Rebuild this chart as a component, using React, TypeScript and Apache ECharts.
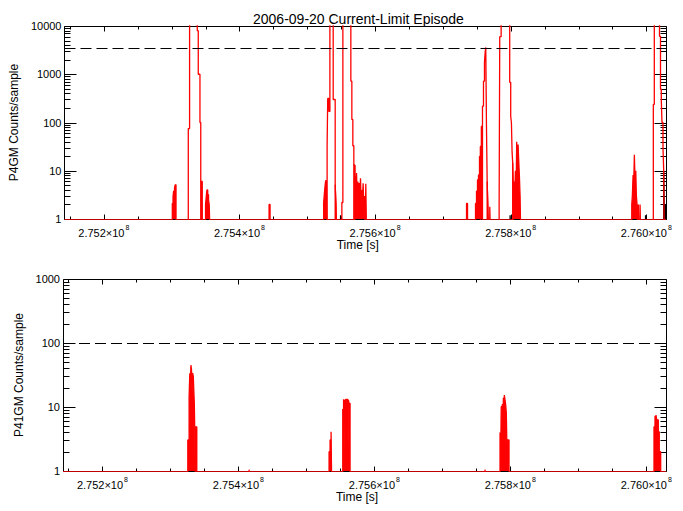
import React, { useEffect, useRef } from 'react';
import * as echarts from 'echarts';

const TITLE = '2006-09-20 Current-Limit Episode';
const X_NAME = 'Time [s]';
const TOP_Y_NAME = 'P4GM Counts/sample';
const BOTTOM_Y_NAME = 'P41GM Counts/sample';

const X_MIN = 275142000;
const X_MAX = 276029000;
const X_TICKS = [275200000, 275400000, 275600000, 275800000, 276000000];
const X_MINOR_STEP = 50000;
const TOP_Y_TICKS = [1, 10, 100, 1000, 10000];
const BOTTOM_Y_TICKS = [1, 10, 100, 1000];
const TOP_THRESHOLD = 3500;
const BOTTOM_THRESHOLD = 100;
const ZERO_FLOOR = 0.5; // zero counts plotted below the log axis floor (clipped)

// P4GM: large excursions (outline only); 0 = no counts, 20000 = off-scale
const p4gmSpikeTimes = [
  275324560, 275326470, 275337790, 275339260, 275341760, 275342940, 275345150,
  275529270, 275530150, 275531910, 275533380, 275538240, 275541180, 275542210, 275543240,
  275551030, 275552500, 275564270, 275565740, 275567210, 275568680, 275570150,
  275755440, 275756910, 275758390, 275759860, 275761330, 275762360, 275763240, 275764270, 275765300, 275766180, 275767210,
  275782940, 275783830, 275785890, 275798530, 275800000, 275801030, 275802060, 275802940, 275803970,
  276010300, 276011770, 276019420, 276020890, 276022060, 276023090, 276024560, 276025590, 276026330,
];
const p4gmSpikeCounts = [
  75, 20000, 8000, 1000, 100, 6, 0,
  32, 316, 170, 20000, 300, 5.1, 2.1, 0,
  2.2, 20000, 720, 116, 33, 13, 0,
  32, 83, 218, 720, 1780, 2900, 3600, 83, 6, 2, 0,
  2, 6000, 20000, 680, 135, 100, 24, 14.7, 0,
  237, 20000, 6100, 490, 300, 100, 30, 10.5, 0,
];

// P4GM: low-level noise clusters (dense samples)
const p4gmNoiseTimes = [
  275301000, 275302060, 275302940, 275304260, 275305150, 275306470,
  275342940, 275344120, 275345150,
  275350000, 275351030, 275352060, 275353240, 275354410, 275355440, 275356470,
  275443680, 275445150,
  275524120, 275525000, 275526030, 275527060, 275528240, 275529270,
  275541180, 275542210, 275543240,
  275568680, 275570150, 275571620, 275572650, 275573530, 275574560, 275575590, 275576470, 275577500, 275578530, 275579410, 275580440, 275581470, 275582350, 275583380, 275584410, 275585300, 275586330, 275587350,
  275734860, 275736330,
  275748090, 275749560, 275751030, 275752500, 275753970, 275755440, 275756910, 275758390,
  275765300, 275766180, 275767210, 275769120, 275770150,
  275802940, 275803970, 275805000, 275805890, 275806920, 275807940, 275808830, 275809860, 275810890, 275811770, 275812800, 275813830, 275814710,
  275978530, 275979420, 275980450, 275981480, 275982360, 275983390, 275984420, 275985300, 275986330, 275987360, 275988240, 275989270, 275990740, 275991770,
];
const p4gmNoiseCounts = [
  2.1, 2.9, 3.8, 4.3, 5.1, 0,
  6, 2.9, 0,
  2, 2.9, 4, 3.2, 2.5, 2, 0,
  2, 0,
  2.1, 3.1, 4.5, 6.2, 5, 0,
  5.1, 2.1, 0,
  13, 7.6, 4, 9, 3, 6, 2.5, 5.6, 3.2, 7, 2.2, 4, 2.5, 5.5, 2, 3, 0, 5.4, 0,
  2.1, 0,
  2.1, 3.8, 6.5, 8.2, 19.8, 32, 83, 0,
  6, 2, 0, 1.8, 0,
  14.7, 3.2, 6, 3.2, 10, 3.2, 40, 3.2, 35, 17, 8, 3, 0,
  2, 3.1, 8.2, 6.2, 21.5, 6.2, 10, 3.06, 2, 0, 2, 0, 2, 0,
];

// P4GM secondary trace (black)
const p4gmBlackTimes = [
  275549120, 275550000, 275799120, 275800000, 275998830, 275999860,
  276025590, 276026330, 276026770, 276027500, 276028200, 276028980,
];
const p4gmBlackCounts = [1.2, 0, 1.2, 0, 1.2, 0, 9.7, 2, 0, 2, 0, 2];

// P41GM counts/sample (red)
const p41gmTimes = [
  275325590, 275327500, 275328530, 275329410, 275330150, 275331030, 275331910, 275332650, 275333680, 275334410, 275335150, 275335880, 275336620, 275337210, 275338820,
  275415740, 275416770,
  275533380, 275534850, 275536330, 275537350,
  275553530, 275554710, 275555440, 275556180, 275556910, 275557650, 275558830, 275559410, 275560590, 275561330, 275561770, 275562800, 275564270,
  275762800, 275763830,
  275784860, 275785890, 275786620, 275788240, 275789710, 275791180, 275792210, 275793240, 275794120, 275794860, 275796180, 275798090,
  276011330, 276012800, 276014270, 276015300, 276017650, 276019120, 276021180,
];
const p41gmCounts = [
  3.05, 14.5, 33.6, 23.4, 45, 38, 16.4, 34, 30, 18.5, 11.4, 4.1, 0, 4.9, 0,
  1.05, 0,
  2.0, 3.05, 4.1, 0,
  9.2, 13.2, 2.1, 13, 11.4, 13.2, 3.05, 13.2, 11, 2, 13, 11.4, 0,
  1.05, 0,
  4.0, 2.0, 10.1, 11, 13.7, 15.4, 12.9, 10.7, 8, 2.9, 3.05, 0,
  4.9, 7.1, 7.5, 6.3, 4.1, 2, 0,
];

const FONT = 'Liberation Sans';
const RED = '#ff0000';

function toSeries(times: number[], counts: number[]) {
  const out: number[][] = [[X_MIN, ZERO_FLOOR]];
  for (let i = 0; i < times.length; i++) {
    out.push([times[i], counts[i] > 0 ? counts[i] : ZERO_FLOOR]);
  }
  out.push([X_MAX, out[out.length - 1][1]]);
  return out;
}

function frameSeries(gi: number, yTicks: number[]) {
  return {
    type: 'custom',
    xAxisIndex: gi,
    yAxisIndex: gi,
    silent: true,
    clip: false,
    z: 1,
    data: [[X_MIN, yTicks[0]]],
    renderItem: (params: any, api: any) => {
      const cs = params.coordSys;
      const left = Math.round(cs.x) + 0.5;
      const right = Math.round(cs.x + cs.width) + 0.5;
      const top = Math.round(cs.y) + 0.5;
      const bottom = Math.round(cs.y + cs.height) + 0.5;
      const children: any[] = [];
      const st = { stroke: '#000', lineWidth: 1 };
      const seg = (x1: number, y1: number, x2: number, y2: number) =>
        children.push({ type: 'line', shape: { x1, y1, x2, y2 }, style: st });
      children.push({
        type: 'rect',
        shape: { x: left, y: top, width: right - left, height: bottom - top },
        style: { fill: 'none', stroke: '#000', lineWidth: 1 },
      });
      const start = Math.ceil(X_MIN / X_MINOR_STEP) * X_MINOR_STEP;
      for (let t = start; t <= X_MAX; t += X_MINOR_STEP) {
        const px = Math.round(api.coord([t, yTicks[0]])[0]) + 0.5;
        const major = X_TICKS.indexOf(t) >= 0;
        const len = major ? 5 : 3;
        seg(px, bottom, px, bottom - len);
        seg(px, top, px, top + len);
      }
      for (let k = 0; k < yTicks.length; k++) {
        const base = yTicks[k];
        const py = Math.round(api.coord([X_MIN, base])[1]) + 0.5;
        seg(left, py, left + 12, py);
        seg(right, py, right - 12, py);
        if (k < yTicks.length - 1) {
          for (let m = 2; m <= 9; m++) {
            const py2 = Math.round(api.coord([X_MIN, base * m])[1]) + 0.5;
            seg(left, py2, left + 6, py2);
            seg(right, py2, right - 6, py2);
          }
        }
      }
      return { type: 'group', children };
    },
  };
}

function xAxisFor(gi: number) {
  return {
    type: 'value',
    gridIndex: gi,
    min: X_MIN,
    max: X_MAX,
    axisLine: { show: false },
    axisTick: { show: false },
    splitLine: { show: false },
    name: X_NAME,
    nameLocation: 'middle',
    nameGap: 19,
    nameTextStyle: { fontFamily: FONT, fontSize: 12, color: '#000', padding: [0, 15, 0, 0] },
    axisLabel: {
      customValues: X_TICKS,
      margin: 5,
      formatter: (v: number) => `{m|${(v / 1e8).toFixed(3)}×10}{s|8}`,
      rich: {
        m: { fontFamily: FONT, fontSize: 11, color: '#000', lineHeight: 14, verticalAlign: 'bottom' },
        s: { fontFamily: FONT, fontSize: 7, color: '#000', lineHeight: 14, verticalAlign: 'top', padding: [0, 0, 0, 1] },
      },
    },
  };
}

function yAxisFor(gi: number, max: number, ticks: number[], name: string) {
  return {
    type: 'log',
    logBase: 10,
    gridIndex: gi,
    min: 1,
    max,
    axisLine: { show: false },
    axisTick: { show: false },
    splitLine: { show: false },
    minorTick: { show: false },
    name,
    nameLocation: 'middle',
    nameRotate: 90,
    nameGap: 37,
    nameTextStyle: { fontFamily: FONT, fontSize: 12, color: '#000' },
    axisLabel: {
      customValues: ticks,
      margin: 3,
      fontFamily: FONT,
      fontSize: 11,
      color: '#000',
      formatter: (v: number) => String(Math.round(v)),
    },
  };
}

function dashed(value: number) {
  return {
    silent: true,
    symbol: ['none', 'none'],
    label: { show: false },
    lineStyle: { color: '#000', type: [11, 5], width: 1.2 },
    data: [{ yAxis: value }],
  };
}

function stepLine(gi: number, name: string, data: number[][], color: string, filled: boolean, z: number) {
  return {
    type: 'line',
    name,
    xAxisIndex: gi,
    yAxisIndex: gi,
    step: 'end',
    showSymbol: false,
    symbol: 'none',
    clip: true,
    z,
    lineStyle: { color, width: 1.3 },
    areaStyle: filled ? { color, opacity: 1, origin: 'start' } : undefined,
    data,
  };
}

export default function App() {
  const ref = useRef<HTMLDivElement>(null);
  useEffect(() => {
    if (!ref.current) return;
    const chart = echarts.init(ref.current, null, { renderer: 'svg' });
    const topSpikes: any = stepLine(0, 'P4GM', toSeries(p4gmSpikeTimes, p4gmSpikeCounts), RED, false, 3);
    topSpikes.markLine = dashed(TOP_THRESHOLD);
    const bottom: any = stepLine(1, 'P41GM', toSeries(p41gmTimes, p41gmCounts), RED, true, 3);
    bottom.markLine = dashed(BOTTOM_THRESHOLD);
    chart.setOption({
      animation: false,
      backgroundColor: '#fff',
      title: {
        text: TITLE,
        left: 248,
        top: 7,
        textStyle: { fontFamily: FONT, fontSize: 14, fontWeight: 'normal', color: '#000' },
      },
      grid: [
        { left: 63, top: 26, width: 603, height: 193 },
        { left: 63, top: 279, width: 603, height: 192 },
      ],
      xAxis: [xAxisFor(0), xAxisFor(1)],
      yAxis: [
        yAxisFor(0, 10000, TOP_Y_TICKS, TOP_Y_NAME),
        yAxisFor(1, 1000, BOTTOM_Y_TICKS, BOTTOM_Y_NAME),
      ],
      series: [
        frameSeries(0, TOP_Y_TICKS),
        frameSeries(1, BOTTOM_Y_TICKS),
        stepLine(0, 'P4GM black', toSeries(p4gmBlackTimes, p4gmBlackCounts), '#000', false, 2),
        stepLine(0, 'P4GM noise', toSeries(p4gmNoiseTimes, p4gmNoiseCounts), RED, true, 3),
        topSpikes,
        bottom,
      ],
    });
    return () => chart.dispose();
  }, []);
  return (
    <div
      ref={ref}
      style={{ position: 'absolute', left: 0, top: 0, width: 683, height: 511, background: '#fff' }}
    />
  );
}
